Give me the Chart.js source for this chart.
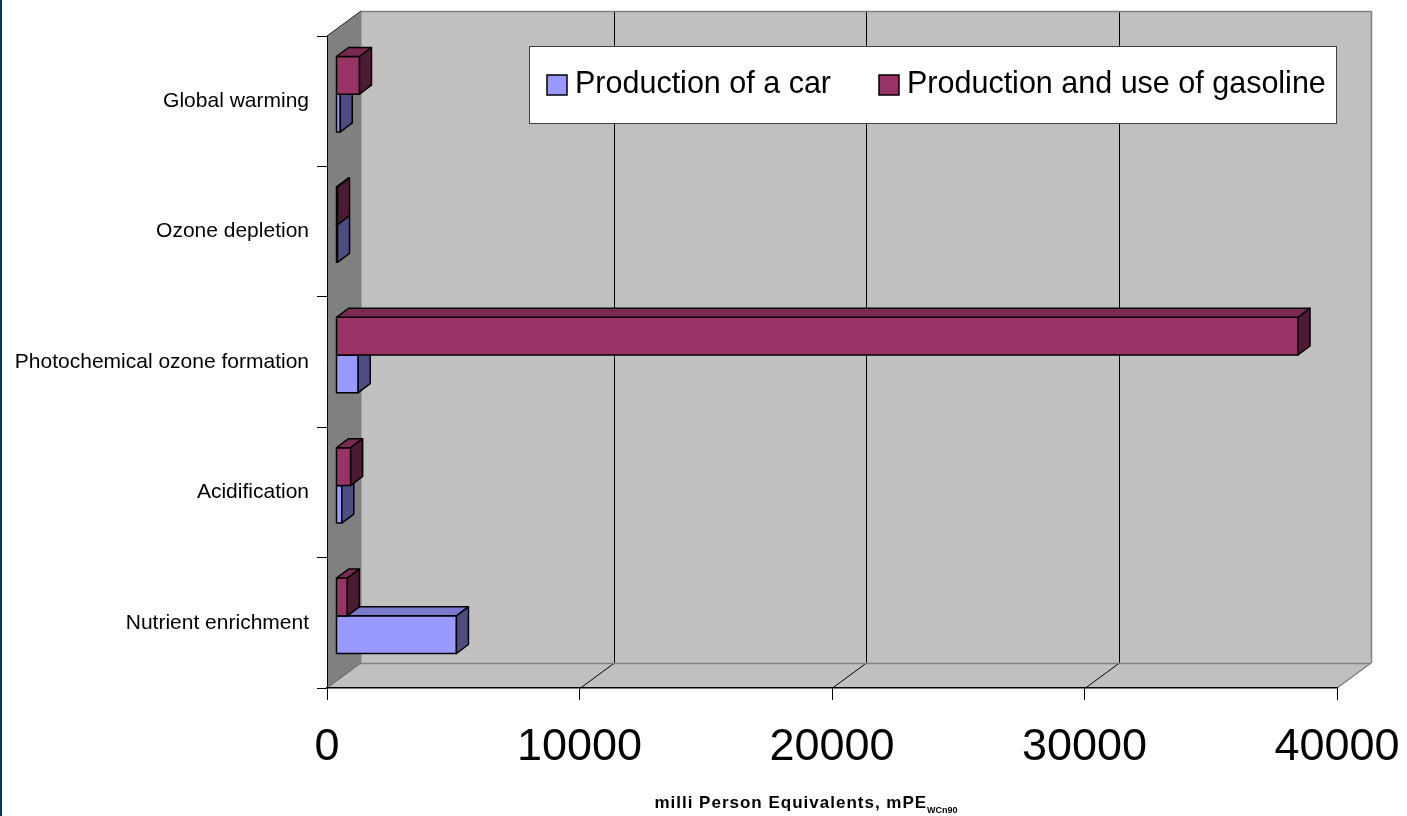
<!DOCTYPE html>
<html>
<head>
<meta charset="utf-8">
<script src="https://cdn.jsdelivr.net/npm/chart.js@4.4.1/dist/chart.umd.min.js"></script>
<style>
  html, body { margin: 0; padding: 0; background: #fff; overflow: hidden; }
  #wrap { position: relative; width: 1407px; height: 816px; }
  #edge { position: absolute; left: 0; top: 0; width: 2px; height: 816px; background: #0f2f5c; }
  canvas { display: block; }
</style>
</head>
<body>
<div id="wrap">
  <canvas id="chart" width="1407" height="816"></canvas>
  <div id="edge"></div>
</div>
<script>
// Impact categories, listed top to bottom
const categories = [
  'Global warming',
  'Ozone depletion',
  'Photochemical ozone formation',
  'Acidification',
  'Nutrient enrichment'
];
const seriesNames = ['Production of a car', 'Production and use of gasoline'];

// mPE (WCn90) per category
const carValues = [170, 60, 880, 230, 4770];
const gasolineValues = [930, 60, 38100, 580, 450];

const xTickValues = [0, 10000, 20000, 30000, 40000];

const axisTitle = 'milli Person Equivalents, mPE';
const axisTitleSub = 'WCn90';

// colours: front face, top face, side face
const carColors = { front: '#9999ff', top: '#7a7acc', side: '#4d4d80' };
const gasColors = { front: '#993366', top: '#7a2952', side: '#4d1a33' };

// 3D geometry of the plot box and the bars
const WALL_DEPTH = { x: 34, y: -25 };
const BAR_SHIFT = { x: 9, y: -7 };
const BAR_DEPTH = { x: 12, y: -9 };

const FONT = '"Liberation Sans", Arial, sans-serif';

function poly(ctx, pts, fill, stroke, lw) {
  ctx.beginPath();
  ctx.moveTo(pts[0][0], pts[0][1]);
  for (let i = 1; i < pts.length; i++) ctx.lineTo(pts[i][0], pts[i][1]);
  ctx.closePath();
  if (fill) { ctx.fillStyle = fill; ctx.fill(); }
  if (stroke) { ctx.strokeStyle = stroke; ctx.lineWidth = lw || 1; ctx.stroke(); }
}
function seg(ctx, x1, y1, x2, y2, color, lw) {
  ctx.beginPath();
  ctx.moveTo(x1, y1);
  ctx.lineTo(x2, y2);
  ctx.strokeStyle = color;
  ctx.lineWidth = lw || 1;
  ctx.stroke();
}

// Back wall, side wall and floor of the 3D box, plus gridlines on them
const wallsPlugin = {
  id: 'walls',
  beforeDraw(chart) {
    const { ctx, chartArea: a, scales: { x: xs } } = chart;
    const L = a.left, R = a.right, T = a.top, B = a.bottom;
    const dx = WALL_DEPTH.x, dy = WALL_DEPTH.y;
    ctx.save();
    poly(ctx, [[L + dx, T + dy], [R + dx, T + dy], [R + dx, B + dy], [L + dx, B + dy]], '#c0c0c0');
    poly(ctx, [[L, B], [L + dx, B + dy], [R + dx, B + dy], [R, B]], '#c0c0c0');
    poly(ctx, [[L, T], [L + dx, T + dy], [L + dx, B + dy], [L, B]], '#808080');

    const maxV = xTickValues[xTickValues.length - 1];
    xs.ticks.forEach(t => {
      if (t.value === 0 || t.value === maxV) return;
      const px = Math.round(xs.getPixelForValue(t.value)) + 0.5;
      seg(ctx, px + dx, T + dy, px + dx, B + dy, '#000', 1);
      seg(ctx, px, B, px + dx, B + dy, '#000', 1);
    });

    seg(ctx, L + dx + 0.5, T + dy, L + dx + 0.5, B + dy, '#a0a0a0', 1);
    seg(ctx, L + dx, T + dy + 0.5, R + dx, T + dy + 0.5, '#808080', 1.5);
    seg(ctx, R + dx + 0.5, T + dy, R + dx + 0.5, B + dy, '#808080', 1.5);
    seg(ctx, L + dx, B + dy + 0.5, R + dx, B + dy + 0.5, '#808080', 1.5);
    seg(ctx, R, B, R + dx, B + dy, '#808080', 1.5);
    seg(ctx, L, T, L + dx, T + dy, '#202020', 1);
    seg(ctx, L, B, L + dx, B + dy, '#606060', 1);
    ctx.restore();
  }
};

// Bars are drawn by the library a little behind the front plane;
// top and side faces are added from the same bar elements.
const barsPlugin = {
  id: 'bars3d',
  beforeDatasetDraw(chart) {
    chart.ctx.save();
    chart.ctx.translate(BAR_SHIFT.x, BAR_SHIFT.y);
  },
  afterDatasetDraw(chart, args) {
    const ctx = chart.ctx;
    const colors = chart.data.datasets[args.index].faceColors;
    const dx = BAR_DEPTH.x, dy = BAR_DEPTH.y;
    args.meta.data.forEach(el => {
      const p = el.getProps(['x', 'y', 'base', 'height'], true);
      const l = Math.min(p.base, p.x), r = Math.max(p.base, p.x);
      const t = p.y - p.height / 2, b = p.y + p.height / 2;
      ctx.lineJoin = 'round';
      poly(ctx, [[l, t], [r, t], [r, b], [l, b]], null, '#000', 1.5);
      poly(ctx, [[l, t], [l + dx, t + dy], [r + dx, t + dy], [r, t]], colors.top, '#000', 1.5);
      poly(ctx, [[r, t], [r + dx, t + dy], [r + dx, b + dy], [r, b]], colors.side, '#000', 1.5);
    });
    ctx.restore();
  }
};

// Boxed legend inside the plot and the x axis title with its subscript
const overlayPlugin = {
  id: 'overlay',
  afterDraw(chart) {
    const { ctx, chartArea: a } = chart;
    ctx.save();
    // legend: two equal-width entries in a white box
    const bx = a.left + 202, by = a.top + 10, bw = a.right - bx, bh = 78;
    ctx.fillStyle = '#fff';
    ctx.fillRect(bx, by, bw, bh);
    ctx.strokeStyle = '#404040';
    ctx.lineWidth = 1;
    ctx.strokeRect(bx + 0.5, by + 0.5, bw - 1, bh - 1);
    ctx.font = '30.5px ' + FONT;
    ctx.textBaseline = 'alphabetic';
    ctx.textAlign = 'left';
    const items = [
      { name: seriesNames[0], color: carColors.front },
      { name: seriesNames[1], color: gasColors.front }
    ];
    const cy = by + 29;
    items.forEach((it, i) => {
      const cx = bx + 18 + i * 332;
      ctx.fillStyle = it.color;
      ctx.fillRect(cx, cy, 20, 20);
      ctx.strokeStyle = '#000';
      ctx.lineWidth = 1.5;
      ctx.strokeRect(cx, cy, 20, 20);
      ctx.fillStyle = '#000';
      ctx.fillText(it.name, cx + 28, cy + 18);
    });

    // axis title
    ctx.font = 'bold 17px ' + FONT;
    ctx.letterSpacing = '1px';
    const w1 = ctx.measureText(axisTitle).width;
    ctx.font = 'bold 9px ' + FONT;
    ctx.letterSpacing = '0px';
    const w2 = ctx.measureText(axisTitleSub).width;
    const x0 = 806 - (w1 + w2) / 2;
    ctx.fillStyle = '#000';
    ctx.font = 'bold 17px ' + FONT;
    ctx.letterSpacing = '1px';
    ctx.fillText(axisTitle, x0, 808);
    ctx.font = 'bold 9px ' + FONT;
    ctx.letterSpacing = '0px';
    ctx.fillText(axisTitleSub, x0 + w1, 813);
    ctx.restore();
  }
};

new Chart(document.getElementById('chart'), {
  type: 'bar',
  data: {
    labels: categories,
    datasets: [
      {
        label: seriesNames[1],
        data: gasolineValues,
        backgroundColor: gasColors.front,
        faceColors: gasColors,
        borderWidth: 0,
        clip: false
      },
      {
        label: seriesNames[0],
        data: carValues,
        backgroundColor: carColors.front,
        faceColors: carColors,
        borderWidth: 0,
        clip: false
      }
    ]
  },
  options: {
    indexAxis: 'y',
    responsive: false,
    animation: false,
    devicePixelRatio: 1,
    categoryPercentage: 0.578,
    barPercentage: 1,
    layout: { padding: { left: 0, top: 36, right: 70, bottom: 0 } },
    plugins: {
      legend: { display: false },
      tooltip: { enabled: false }
    },
    scales: {
      x: {
        min: 0,
        max: 40000,
        afterBuildTicks: s => { s.ticks = xTickValues.map(v => ({ value: v })); },
        afterFit: s => { s.height = 128; s.paddingLeft = 0; s.paddingRight = 0; },
        grid: { display: true, drawOnChartArea: false, drawTicks: true, tickLength: 12, color: '#000', lineWidth: 1 },
        border: { display: true, color: '#000', width: 1.5 },
        ticks: {
          color: '#000',
          font: { family: FONT, size: 45 },
          padding: 21,
          maxRotation: 0,
          autoSkip: false,
          callback: v => String(v)
        }
      },
      y: {
        afterFit: s => { s.width = 327; s.paddingTop = 0; s.paddingBottom = 0; },
        grid: { display: true, offset: true, drawOnChartArea: false, drawTicks: true, tickLength: 10, color: '#000', lineWidth: 1 },
        border: { display: true, color: '#000', width: 1 },
        ticks: {
          color: '#000',
          font: { family: FONT, size: 21 },
          padding: 8,
          autoSkip: false
        }
      }
    }
  },
  plugins: [wallsPlugin, barsPlugin, overlayPlugin]
});
</script>
</body>
</html>
